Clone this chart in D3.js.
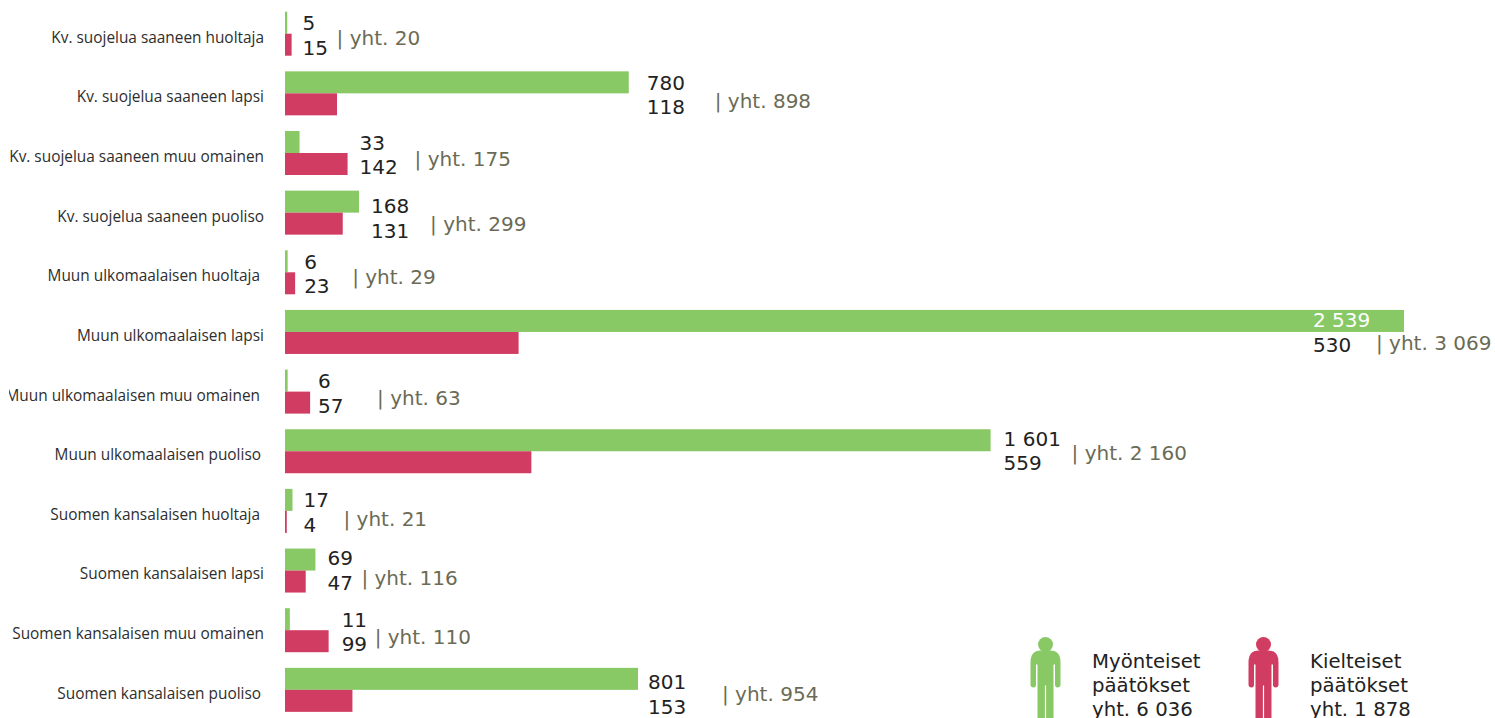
<!DOCTYPE html>
<html lang="fi">
<head>
<meta charset="utf-8">
<script src="https://cdn.jsdelivr.net/npm/d3@7"></script>
<style>
  html, body { margin: 0; padding: 0; background: #fff; overflow: hidden; }
  .num { font-family: "DejaVu Sans", sans-serif; font-size: 20px; }
  .legend .num { font-size: 19.7px; }
  .cat text { font-family: "Open Sans", sans-serif; font-size: 15.4px; fill: #2e2e2e; }
</style>
</head>
<body>
<div id="chart"></div>
<script>
// Values
const categories = [
  "Kv. suojelua saaneen huoltaja",
  "Kv. suojelua saaneen lapsi",
  "Kv. suojelua saaneen muu omainen",
  "Kv. suojelua saaneen puoliso",
  "Muun ulkomaalaisen huoltaja",
  "Muun ulkomaalaisen lapsi",
  "Muun ulkomaalaisen muu omainen",
  "Muun ulkomaalaisen puoliso",
  "Suomen kansalaisen huoltaja",
  "Suomen kansalaisen lapsi",
  "Suomen kansalaisen muu omainen",
  "Suomen kansalaisen puoliso"
];
const approved = [5, 780, 33, 168, 6, 2539, 6, 1601, 17, 69, 11, 801];
const rejected = [15, 118, 142, 131, 23, 530, 57, 559, 4, 47, 99, 153];
const totals = [20, 898, 175, 299, 29, 3069, 63, 2160, 21, 116, 110, 954];
const legendLabels = ["Myönteiset", "Kielteiset"];
const legendTotals = [6036, 1878];

// Hand placed labels in the original, so the gaps are per row
const valueGap = [11, 18, 12, 12, 9, -91, 8, 13, 11, 12, 13, 10];
const totalGap = [34, 68, 55, 59, 48, 63, 59, 68, 40, 34, 33, 74];
const labelShift = [0, 0, 0, 4, 0, -1, 0, -2, 0, -2, 0, 3];
const totalDy = [33, 37, 35, 36, 34, 41, 35, 33, 37, 38, 36, 30];
const catRight = [264, 264, 264, 264, 260, 264, 260, 261, 260, 264, 264, 261];

const width = 1495, height = 718;
const green = "#88c966", red = "#d13c62";
const fmt = n => d3.format(",")(n).replace(/,/g, "\u00a0");

const svg = d3.select("#chart").append("svg")
  .attr("width", width)
  .attr("height", height)
  .style("display", "block");

// One category label is cut at the left in the original
svg.append("clipPath").attr("id", "cat-clip")
  .append("rect")
  .attr("x", 9).attr("y", 0)
  .attr("width", 276).attr("height", height);

const xScale = d3.scaleLinear()
  .domain([0, 2539])
  .range([285, 1404]);

const yScale = d3.scaleBand()
  .domain(categories)
  .range([11.7, 711.85])
  .paddingInner(0.2624);

const seriesScale = d3.scaleBand()
  .domain(["approved", "rejected"])
  .range([0, yScale.bandwidth()]);

const rows = categories.map((c, i) => ({
  category: c, i,
  approved: approved[i],
  rejected: rejected[i],
  total: totals[i]
}));

// Category labels
const catAxis = svg.append("g")
  .attr("clip-path", "url(#cat-clip)")
  .append("g")
  .attr("class", "cat")
  .attr("transform", "translate(264,0)")
  .call(d3.axisLeft(yScale).tickSize(0).tickPadding(0));
catAxis.select(".domain").remove();
catAxis.selectAll("text")
  .attr("x", (d, i) => catRight[i] - 264)
  .attr("dy", "0.32em")
  .attr("y", 4);

// Bars
const row = svg.selectAll(".row")
  .data(rows)
  .join("g")
  .attr("class", "row")
  .attr("transform", d => `translate(0,${yScale(d.category)})`);

row.append("rect")
  .attr("x", xScale(0))
  .attr("y", seriesScale("approved"))
  .attr("width", d => xScale(d.approved) - xScale(0))
  .attr("height", seriesScale.bandwidth())
  .attr("fill", green);

row.append("rect")
  .attr("x", xScale(0))
  .attr("y", seriesScale("rejected"))
  .attr("width", d => xScale(d.rejected) - xScale(0))
  .attr("height", seriesScale.bandwidth())
  .attr("fill", red);

// Value labels
const labelX = d => xScale(Math.max(d.approved, d.rejected)) + valueGap[d.i];

row.append("text")
  .attr("class", "num")
  .attr("x", labelX)
  .attr("y", d => 18.5 + labelShift[d.i])
  .attr("fill", d => valueGap[d.i] < 0 ? "#fff" : "#222")
  .text(d => fmt(d.approved));

row.append("text")
  .attr("class", "num")
  .attr("x", labelX)
  .attr("y", d => 43 + labelShift[d.i])
  .attr("fill", "#222")
  .text(d => fmt(d.rejected));

row.append("text")
  .attr("class", "num")
  .attr("x", d => labelX(d) + totalGap[d.i])
  .attr("y", d => totalDy[d.i] + labelShift[d.i])
  .attr("fill", "#6b6b55")
  .text(d => `| yht. ${fmt(d.total)}`);

// Legend
const legend = svg.selectAll(".legend")
  .data(legendLabels.map((label, i) => ({ label, total: legendTotals[i], color: [green, red][i] })))
  .join("g")
  .attr("class", "legend")
  .attr("transform", (d, i) => `translate(${1045.5 + i * 218},644.5)`);

legend.append("circle")
  .attr("r", 7.5)
  .attr("fill", d => d.color);

legend.append("path")
  .attr("d", "M-15,18 Q-15,6 -5,6 L5,6 Q15,6 15,18 L15,40 Q15,43 12,43 Q9.5,43 9.5,40 L9.5,20 L8,20 L8,80 L0.6,80 L0.6,41 L-0.6,41 L-0.6,80 L-8,80 L-8,20 L-9.5,20 L-9.5,40 Q-9.5,43 -12,43 Q-15,43 -15,40 Z")
  .attr("fill", d => d.color);

const legendText = legend.append("text")
  .attr("class", "num")
  .attr("fill", "#222");

legendText.append("tspan").attr("x", 46.5).attr("y", 23.5).text(d => d.label);
legendText.append("tspan").attr("x", 46.5).attr("y", 47.5).text("päätökset");
legendText.append("tspan").attr("x", 46.5).attr("y", 71.5).text(d => `yht. ${fmt(d.total)}`);
</script>
</body>
</html>
